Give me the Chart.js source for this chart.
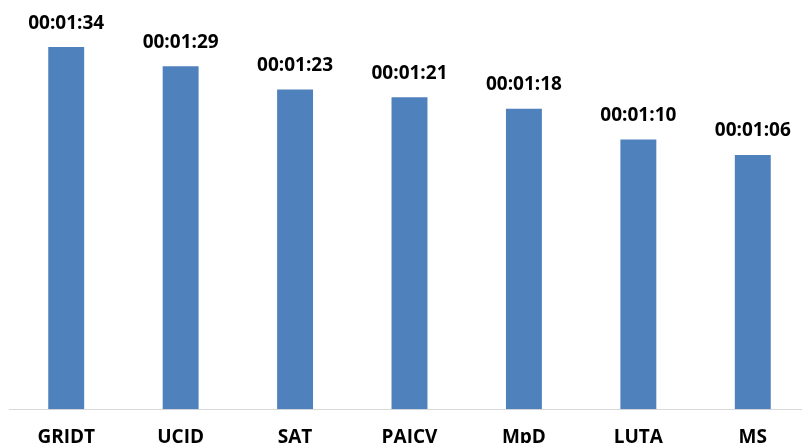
<!DOCTYPE html>
<html lang="en">
<head>
    <meta charset="UTF-8">
    <title>Bar chart</title>
    <script src="https://cdn.jsdelivr.net/npm/chart.js@4"></script>
    <style>
        html, body { margin: 0; padding: 0; overflow: hidden; background: #fff; }
        #wrap { position: relative; width: 811px; height: 466px; }
    </style>
</head>
<body>
<div id="wrap">
    <canvas id="myChart"></canvas>
</div>

<script>
    // data
    var categories = ['GRIDT', 'UCID', 'SAT', 'PAICV', 'MpD', 'LUTA', 'MS'];
    var seconds = [94, 89, 83, 81, 78, 70, 66];
    var timeLabels = ['00:01:34', '00:01:29', '00:01:23', '00:01:21', '00:01:18', '00:01:10', '00:01:06'];

    var fontFamily = '"Open Sans", "Liberation Sans", sans-serif';

    // value labels above each bar
    var valueLabels = {
        id: 'valueLabels',
        afterDatasetsDraw: function (chart) {
            var ctx = chart.ctx;
            var meta = chart.getDatasetMeta(0);
            ctx.save();
            ctx.font = 'bold 19px ' + fontFamily;
            ctx.fillStyle = '#000';
            ctx.textAlign = 'center';
            ctx.textBaseline = 'middle';
            meta.data.forEach(function (bar, i) {
                ctx.fillText(timeLabels[i], bar.x, bar.y - 24);
            });
            ctx.restore();
        }
    };

    var ctx = document.getElementById('myChart');
    new Chart(ctx, {
        type: 'bar',
        data: {
            labels: categories,
            datasets: [{
                data: seconds,
                backgroundColor: '#4f81bd',
                borderWidth: 0,
                categoryPercentage: 1.0,
                barPercentage: 0.314
            }]
        },
        options: {
            responsive: true,
            maintainAspectRatio: false,
            animation: false,
            layout: { padding: { left: 9, right: 1, top: 24, bottom: 0 } },
            plugins: {
                legend: { display: false },
                tooltip: { enabled: false }
            },
            scales: {
                x: {
                    grid: { display: false, drawTicks: false },
                    border: { display: true, color: '#d9d9d9', width: 1 },
                    ticks: {
                        color: '#000',
                        padding: 17,
                        font: { family: fontFamily, size: 19, weight: 'bold' },
                        maxRotation: 0
                    }
                },
                y: {
                    display: false,
                    min: 0,
                    max: 100
                }
            }
        },
        plugins: [valueLabels]
    });
</script>
</body>
</html>
